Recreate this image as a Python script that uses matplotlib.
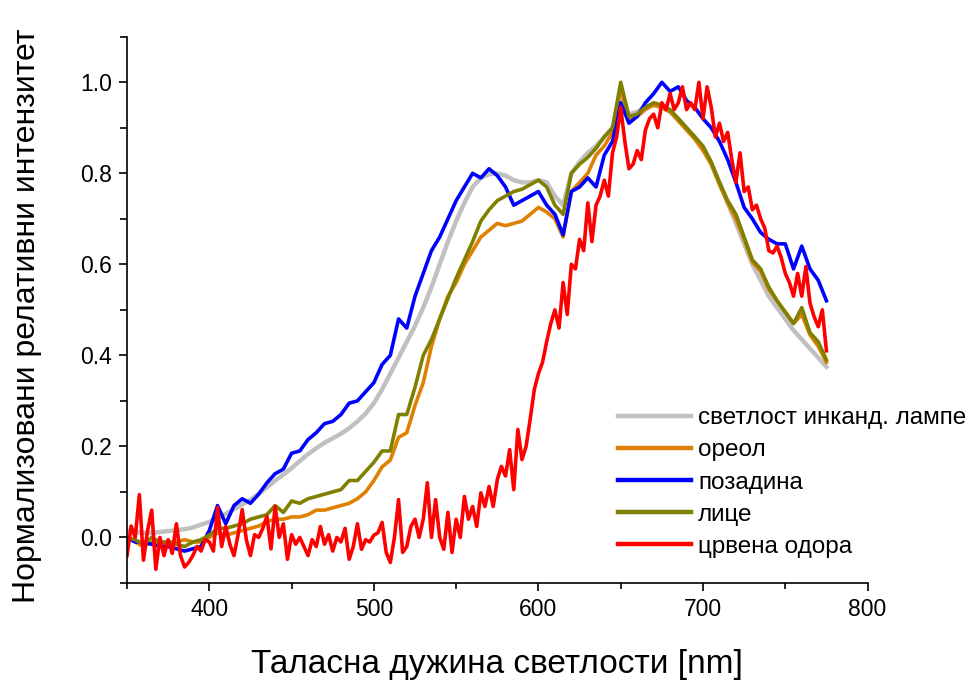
import numpy as np
import matplotlib
matplotlib.use("Agg")
import matplotlib.pyplot as plt
from matplotlib.ticker import MultipleLocator

plt.rcParams['font.family'] = ['Liberation Sans', 'DejaVu Sans']

# wavelength grids [nm]
wl = np.arange(350, 776, 5)
wl_red = np.arange(350, 775.1, 2.5)

lamp = [0.015, 0.012, 0.010, 0.010, 0.012, 0.014, 0.016, 0.018, 0.022, 0.028,
        0.034, 0.042, 0.052, 0.062, 0.072, 0.083, 0.096, 0.110, 0.125, 0.138,
        0.152, 0.168, 0.183, 0.196, 0.208, 0.218, 0.228, 0.240, 0.255, 0.272,
        0.295, 0.325, 0.360, 0.395, 0.430, 0.465, 0.505, 0.550, 0.600, 0.650,
        0.695, 0.735, 0.770, 0.790, 0.798, 0.800, 0.795, 0.785, 0.780, 0.780,
        0.785, 0.780, 0.750, 0.730, 0.800, 0.825, 0.845, 0.860, 0.880, 0.900,
        0.960, 0.930, 0.935, 0.945, 0.950, 0.945, 0.935, 0.920, 0.900, 0.880,
        0.855, 0.820, 0.780, 0.735, 0.690, 0.645, 0.600, 0.565, 0.530, 0.505,
        0.480, 0.455, 0.435, 0.415, 0.395, 0.375]

halo = [0.000, -0.010, -0.020, -0.010, -0.015, -0.010, -0.010, -0.005, -0.010, -0.010,
        0.000, 0.010, 0.005, 0.010, 0.015, 0.020, 0.025, 0.035, 0.040, 0.040,
        0.045, 0.045, 0.050, 0.060, 0.060, 0.065, 0.070, 0.075, 0.085, 0.100,
        0.125, 0.155, 0.170, 0.220, 0.230, 0.290, 0.340, 0.420, 0.480, 0.530,
        0.560, 0.600, 0.630, 0.660, 0.675, 0.690, 0.685, 0.690, 0.695, 0.710,
        0.725, 0.715, 0.700, 0.660, 0.760, 0.780, 0.800, 0.840, 0.860, 0.890,
        0.985, 0.920, 0.925, 0.940, 0.950, 0.945, 0.935, 0.915, 0.895, 0.875,
        0.850, 0.820, 0.775, 0.735, 0.700, 0.655, 0.605, 0.585, 0.545, 0.520,
        0.495, 0.470, 0.490, 0.445, 0.420, 0.385]

background = [0.000, -0.010, -0.010, -0.015, -0.020, -0.020, -0.025, -0.030, -0.025, -0.020,
              0.015, 0.070, 0.030, 0.070, 0.085, 0.075, 0.095, 0.120, 0.140, 0.150,
              0.185, 0.190, 0.215, 0.230, 0.250, 0.255, 0.270, 0.295, 0.300, 0.320,
              0.340, 0.380, 0.400, 0.480, 0.460, 0.530, 0.580, 0.630, 0.660, 0.700,
              0.740, 0.770, 0.800, 0.790, 0.810, 0.795, 0.770, 0.730, 0.740, 0.750,
              0.760, 0.730, 0.710, 0.665, 0.760, 0.770, 0.790, 0.770, 0.840, 0.870,
              0.955, 0.910, 0.925, 0.955, 0.975, 1.000, 0.980, 0.990, 0.960, 0.945,
              0.920, 0.900, 0.870, 0.830, 0.780, 0.725, 0.700, 0.670, 0.655, 0.645,
              0.645, 0.590, 0.640, 0.590, 0.565, 0.520]

face = [0.000, -0.005, -0.015, 0.000, -0.010, -0.010, -0.015, -0.020, -0.010, -0.005,
        0.005, 0.020, 0.020, 0.025, 0.030, 0.040, 0.045, 0.050, 0.070, 0.055,
        0.080, 0.075, 0.085, 0.090, 0.095, 0.100, 0.105, 0.125, 0.125, 0.145,
        0.165, 0.190, 0.190, 0.270, 0.270, 0.330, 0.400, 0.435, 0.480, 0.525,
        0.570, 0.610, 0.650, 0.695, 0.720, 0.740, 0.750, 0.760, 0.765, 0.775,
        0.785, 0.770, 0.730, 0.710, 0.800, 0.820, 0.835, 0.855, 0.880, 0.900,
        1.000, 0.925, 0.930, 0.945, 0.955, 0.950, 0.940, 0.920, 0.900, 0.880,
        0.860, 0.825, 0.780, 0.740, 0.710, 0.660, 0.610, 0.590, 0.550, 0.520,
        0.495, 0.470, 0.505, 0.450, 0.430, 0.390]

red_robe = [-0.040, 0.025, 0.000, 0.094, -0.050, 0.015, 0.060, -0.070, 0.000, -0.040,
            -0.005, -0.035, 0.030, -0.040, -0.065, -0.055, -0.040, -0.020, -0.030, -0.005,
            -0.010, -0.030, 0.066, -0.020, 0.024, -0.015, -0.040, 0.006, 0.061, -0.005,
            -0.040, 0.006, 0.000, 0.020, 0.046, -0.025, 0.068, 0.000, 0.030, -0.048,
            0.006, -0.015, 0.000, -0.020, -0.040, -0.005, -0.020, 0.024, -0.015, 0.006,
            -0.030, 0.000, -0.010, 0.020, -0.048, -0.020, 0.030, -0.026, -0.005, -0.010,
            0.005, 0.010, 0.033, -0.033, -0.055, 0.000, 0.083, -0.033, -0.020, 0.024,
            0.040, 0.000, 0.040, 0.120, 0.000, 0.083, 0.000, -0.026, 0.055, -0.033,
            0.040, 0.000, 0.090, 0.040, 0.068, 0.024, 0.098, 0.068, 0.112, 0.068,
            0.127, 0.156, 0.135, 0.193, 0.105, 0.237, 0.171, 0.200, 0.260, 0.325,
            0.360, 0.385, 0.430, 0.470, 0.500, 0.460, 0.560, 0.490, 0.600, 0.590,
            0.655, 0.630, 0.735, 0.650, 0.730, 0.750, 0.785, 0.750, 0.845, 0.880,
            0.945, 0.870, 0.810, 0.820, 0.850, 0.830, 0.895, 0.920, 0.930, 0.900,
            0.955, 0.940, 0.975, 0.940, 0.955, 0.990, 0.940, 0.955, 0.940, 1.000,
            0.920, 0.990, 0.945, 0.880, 0.910, 0.870, 0.890, 0.830, 0.780, 0.845,
            0.760, 0.770, 0.720, 0.730, 0.700, 0.680, 0.630, 0.625, 0.640, 0.615,
            0.580, 0.560, 0.530, 0.580, 0.530, 0.595, 0.515, 0.485, 0.463, 0.500,
            0.410]

labels = ['светлост инканд. лампе', 'ореол', 'позадина', 'лице', 'црвена одора']
colors = ['#c0c0c0', '#e08000', '#0000ff', '#808000', '#ff0000']

fig = plt.figure(figsize=(9.77, 6.81), dpi=100)
ax = fig.add_axes([0.130, 0.144, 0.758, 0.802])

ax.plot(wl, lamp, color=colors[0], lw=3.2, label=labels[0])
ax.plot(wl, halo, color=colors[1], lw=2.6, label=labels[1])
ax.plot(wl, background, color=colors[2], lw=2.6, label=labels[2])
ax.plot(wl, face, color=colors[3], lw=2.6, label=labels[3])
ax.plot(wl_red, red_robe, color=colors[4], lw=2.6, label=labels[4])

ax.set_xlim(350, 800)
ax.set_ylim(-0.1, 1.1)
ax.xaxis.set_major_locator(MultipleLocator(100))
ax.xaxis.set_minor_locator(MultipleLocator(50))
ax.yaxis.set_major_locator(MultipleLocator(0.2))
ax.yaxis.set_minor_locator(MultipleLocator(0.1))
ax.yaxis.set_major_formatter(plt.FuncFormatter(lambda v, p: f"{v:.1f}"))

for side in ['top', 'right']:
    ax.spines[side].set_visible(False)
for side in ['left', 'bottom']:
    ax.spines[side].set_linewidth(1.2)

ax.tick_params(which='major', direction='out', length=6, width=1.2, labelsize=16.5, pad=5)
ax.tick_params(which='minor', direction='out', length=4, width=1.2)
ax.tick_params(axis='y', which='minor', length=5)

ax.set_xlabel('Таласна дужина светлости [nm]', fontsize=24, labelpad=20)
ax.set_ylabel('Нормализовани релативни интензитет', fontsize=23)
ax.yaxis.set_label_coords(-0.115, 0.49)

leg = ax.legend(loc='upper left', bbox_to_anchor=(0.663, 0.322), frameon=False,
                fontsize=17.5, handlelength=3.0, handletextpad=0.3, labelspacing=0.42,
                borderpad=0, borderaxespad=0)
for line in leg.get_lines():
    line.set_linewidth(3.2)

plt.savefig('out.png', dpi=100)
plt.close()
